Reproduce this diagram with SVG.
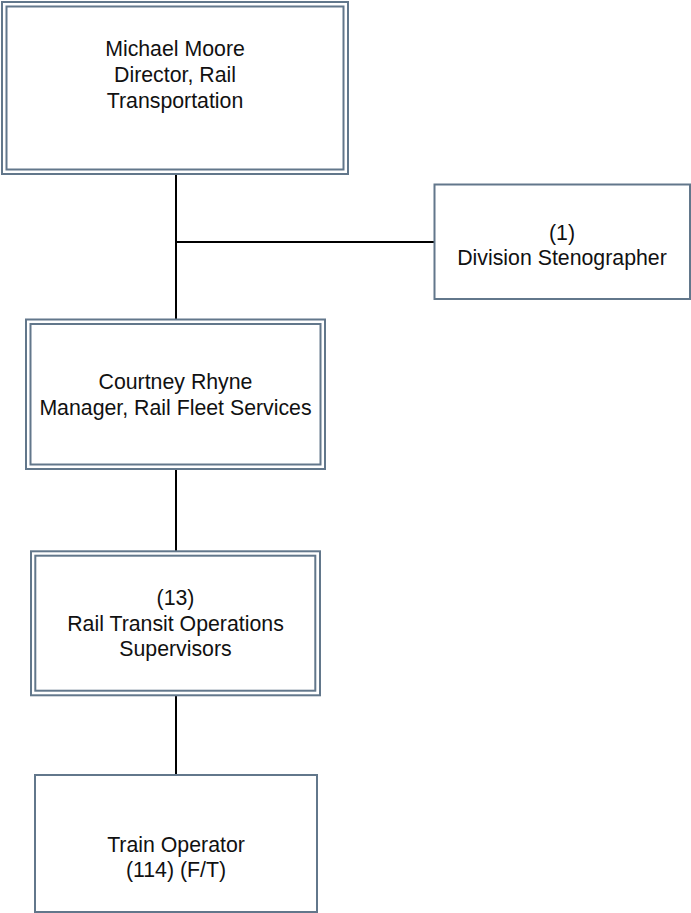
<svg xmlns="http://www.w3.org/2000/svg" width="691" height="913" viewBox="0 0 691 913">
<style>
.box{fill:#fff;stroke:#62778b;stroke-width:2}
.inner{fill:none;stroke:#62778b;stroke-width:2}
.lbl{font-family:"Liberation Sans",Arial,sans-serif;font-size:21.3px;fill:#111;text-anchor:middle}
.conn{stroke:#000;stroke-width:2;fill:none}
</style>
<rect width="691" height="913" fill="#fff"/>
<g id="connectors">
<line class="conn" x1="176" y1="174" x2="176" y2="319"/>
<line class="conn" x1="176" y1="242" x2="434.5" y2="242"/>
<line class="conn" x1="176" y1="469" x2="176" y2="551"/>
<line class="conn" x1="176" y1="695" x2="176" y2="775"/>
</g>
<g id="director">
<rect class="box" x="2" y="2" width="346" height="172"/>
<rect class="inner" x="6.5" y="6.5" width="337" height="163"/>
<text class="lbl" x="175" y="56">Michael Moore</text>
<text class="lbl" x="175" y="82">Director, Rail</text>
<text class="lbl" x="175" y="107.5">Transportation</text>
</g>
<g id="stenographer">
<rect class="box" x="434.5" y="184.5" width="255.5" height="114.5"/>
<text class="lbl" x="562" y="240">(1)</text>
<text class="lbl" x="562" y="265">Division Stenographer</text>
</g>
<g id="manager">
<rect class="box" x="26" y="319.5" width="299" height="149.5"/>
<rect class="inner" x="30.5" y="324" width="290" height="140.5"/>
<text class="lbl" x="175.5" y="389.3">Courtney Rhyne</text>
<text class="lbl" x="175.5" y="415">Manager, Rail Fleet Services</text>
</g>
<g id="supervisors">
<rect class="box" x="31" y="551.3" width="289" height="144"/>
<rect class="inner" x="35.3" y="555.7" width="280" height="135"/>
<text class="lbl" x="175.5" y="605.3">(13)</text>
<text class="lbl" x="175.5" y="630.7">Rail Transit Operations</text>
<text class="lbl" x="175.5" y="656">Supervisors</text>
</g>
<g id="train-operator">
<rect class="box" x="35" y="775" width="282" height="137"/>
<text class="lbl" x="176" y="851.7">Train Operator</text>
<text class="lbl" x="176" y="877.3">(114) (F/T)</text>
</g>
</svg>
